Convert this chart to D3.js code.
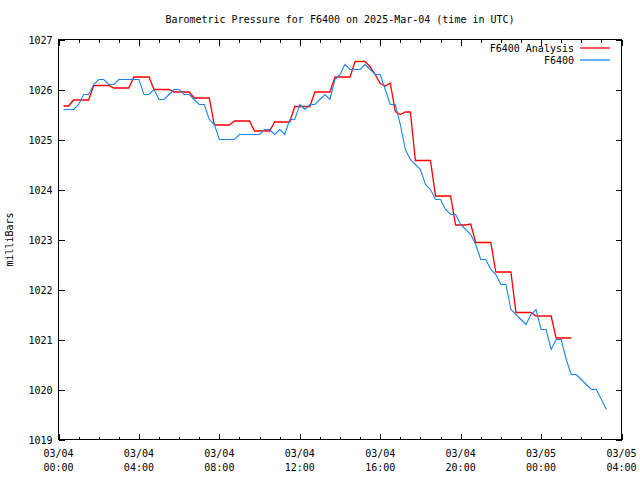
<!DOCTYPE html>
<html><head><meta charset="utf-8">
<script src="https://cdn.jsdelivr.net/npm/d3@7"></script>
<style>
body{margin:0;background:#fff}
svg{display:block}
text{font-family:"DejaVu Sans Mono","Liberation Mono",monospace;font-size:10px;fill:#000}
</style>
</head><body>
<svg id="chart" width="640" height="480"></svg>
<script>
// ---------- data ----------
const titleText = "Barometric Pressure for F6400 on 2025-Mar-04 (time in UTC)";
const yAxisLabel = "milliBars";
const seriesNames = ["F6400 Analysis", "F6400"];
const yTickValues = [1019, 1020, 1021, 1022, 1023, 1024, 1025, 1026, 1027];
const xTickHours = [0, 4, 8, 12, 16, 20, 24, 28];
const xTickDates = ["03/04", "03/04", "03/04", "03/04", "03/04", "03/04", "03/05", "03/05"];
const xTickTimes = ["00:00", "04:00", "08:00", "12:00", "16:00", "20:00", "00:00", "04:00"];

// hours after 2025-03-04 00:00 UTC
const analysisHours = [0.25, 0.5, 0.75, 1.5, 1.75, 2.5, 2.75, 3.5, 3.75, 4.5, 4.75, 5.5,
  5.75, 6.5, 6.75, 7.5, 7.75, 8.5, 8.75, 9.5, 9.75, 10.5, 10.75, 11.5, 11.75, 12.5,
  12.75, 13.5, 13.75, 14.5, 14.75, 15.25, 15.5, 15.75, 16.0, 16.25, 16.5, 16.75, 17.0,
  17.25, 17.5, 17.75, 18.5, 18.75, 19.5, 19.75, 20.25, 20.5, 20.75, 21.5, 21.75, 22.5,
  22.75, 23.5, 23.75, 24.5, 24.75, 25.5];
const analysisValues = [1025.67, 1025.67, 1025.79, 1025.79, 1026.08, 1026.08, 1026.03, 1026.03,
  1026.25, 1026.25, 1026.00, 1026.00, 1025.95, 1025.95, 1025.83, 1025.83, 1025.29, 1025.29,
  1025.37, 1025.37, 1025.17, 1025.17, 1025.35, 1025.35, 1025.66, 1025.66, 1025.95, 1025.95,
  1026.25, 1026.25, 1026.56, 1026.56, 1026.45, 1026.30, 1026.12, 1026.07, 1026.13, 1025.56,
  1025.50, 1025.55, 1025.55, 1024.58, 1024.58, 1023.87, 1023.87, 1023.29, 1023.29, 1023.31,
  1022.94, 1022.94, 1022.35, 1022.35, 1021.54, 1021.54, 1021.47, 1021.47, 1021.03, 1021.03];

const stationHours = [0.25, 0.5, 0.75, 1.0, 1.25, 1.5, 1.75, 2.0, 2.25, 2.5, 2.75, 3.0,
  3.25, 3.5, 3.75, 4.0, 4.25, 4.5, 4.75, 5.0, 5.25, 5.5, 5.75, 6.0, 6.25, 6.5, 6.75, 7.0,
  7.25, 7.5, 7.75, 8.0, 8.25, 8.5, 8.75, 9.0, 9.25, 9.5, 9.75, 10.0, 10.25, 10.5, 10.75, 11.0,
  11.25, 11.5, 11.75, 12.0, 12.25, 12.5, 12.75, 13.0, 13.25, 13.5, 13.75, 14.0, 14.25, 14.5,
  14.75, 15.0, 15.25, 15.5, 15.75, 16.0, 16.25, 16.5, 16.75, 17.0, 17.25, 17.5, 17.75, 18.0,
  18.25, 18.5, 18.75, 19.0, 19.25, 19.5, 19.75, 20.0, 20.25, 20.5, 20.75, 21.0, 21.25, 21.5,
  21.75, 22.0, 22.25, 22.5, 22.75, 23.0, 23.25, 23.5, 23.75, 24.0, 24.25, 24.5, 24.75, 25.0,
  25.25, 25.5, 25.75, 26.0, 26.25, 26.5, 26.75, 27.0, 27.25];
const stationValues = [1025.6, 1025.6, 1025.6, 1025.7, 1025.9, 1025.9, 1026.1, 1026.2, 1026.2,
  1026.1, 1026.1, 1026.2, 1026.2, 1026.2, 1026.2, 1026.2, 1025.9, 1025.9, 1026.0, 1025.8,
  1025.8, 1025.9, 1026.0, 1026.0, 1025.9, 1025.9, 1025.8, 1025.7, 1025.7, 1025.4, 1025.3,
  1025.0, 1025.0, 1025.0, 1025.0, 1025.1, 1025.1, 1025.1, 1025.1, 1025.1, 1025.2, 1025.2,
  1025.1, 1025.2, 1025.1, 1025.4, 1025.4, 1025.7, 1025.6, 1025.7, 1025.7, 1025.8, 1025.9,
  1025.8, 1026.2, 1026.3, 1026.5, 1026.4, 1026.4, 1026.4, 1026.5, 1026.4, 1026.3, 1026.3,
  1026.0, 1025.7, 1025.7, 1025.3, 1024.8, 1024.6, 1024.5, 1024.4, 1024.1, 1024.0, 1023.8,
  1023.8, 1023.6, 1023.5, 1023.5, 1023.3, 1023.2, 1023.1, 1022.9, 1022.6, 1022.6, 1022.4,
  1022.3, 1022.1, 1022.1, 1021.6, 1021.5, 1021.4, 1021.3, 1021.5, 1021.6, 1021.2, 1021.2,
  1020.8, 1021.0, 1021.0, 1020.6, 1020.3, 1020.3, 1020.2, 1020.1, 1020.0, 1020.0, 1019.8,
  1019.6];

// ---------- layout ----------
const colors = ["#ff0000", "#1a87f0"];
const startUTC = Date.UTC(2025, 2, 4, 0, 0);
const HOUR = 3600 * 1000;
const toDate = h => new Date(startUTC + h * HOUR);
const L = 58.5, R = 621.5, T = 39.5, B = 439.5;

const svg = d3.select("#chart");
const x = d3.scaleUtc().domain([toDate(0), toDate(28)]).range([L, R]);
const y = d3.scaleLinear().domain([1019, 1027]).range([B, T]);

// title
svg.append("text").attr("x", (L + R) / 2).attr("y", 23)
  .attr("text-anchor", "middle").text(titleText);

// y label
svg.append("text").attr("transform", `translate(13,${(T + B) / 2}) rotate(-90)`)
  .attr("text-anchor", "middle").text(yAxisLabel);

const ticks = svg.append("g").attr("stroke", "#000").attr("stroke-width", 1)
  .attr("shape-rendering", "crispEdges");

// x ticks (hourly minor, 4-hourly major), bottom and top
d3.utcHour.range(toDate(0), toDate(28.01), 1).forEach(d => {
  const xx = Math.round(x(d)) + 0.5;
  const major = d.getUTCHours() % 4 === 0;
  const len = major ? 6 : 3;
  ticks.append("line").attr("x1", xx).attr("x2", xx).attr("y1", B).attr("y2", B - len);
  ticks.append("line").attr("x1", xx).attr("x2", xx).attr("y1", T).attr("y2", T + len);
});

// y ticks
yTickValues.forEach(v => {
  const yy = Math.round(y(v)) + 0.5;
  ticks.append("line").attr("x1", L).attr("x2", L + 6).attr("y1", yy).attr("y2", yy);
  ticks.append("line").attr("x1", R).attr("x2", R - 6).attr("y1", yy).attr("y2", yy);
  svg.append("text").attr("x", L - 6).attr("y", yy + 3.5)
    .attr("text-anchor", "end").text(v);
});

// x tick labels
xTickHours.forEach((h, i) => {
  const xx = x(toDate(h));
  svg.append("text").attr("x", xx).attr("y", 457).attr("text-anchor", "middle").text(xTickDates[i]);
  svg.append("text").attr("x", xx).attr("y", 471).attr("text-anchor", "middle").text(xTickTimes[i]);
});

// series
const line = d3.line().x(d => x(toDate(d[0]))).y(d => y(d[1]));
const analysis = analysisHours.map((h, i) => [h, analysisValues[i]]);
const station = stationHours.map((h, i) => [h, stationValues[i]]);

svg.append("path").datum(analysis).attr("d", line)
  .attr("fill", "none").attr("stroke", colors[0]).attr("stroke-width", 1.3);
svg.append("path").datum(station).attr("d", line)
  .attr("fill", "none").attr("stroke", colors[1]).attr("stroke-width", 1.1);

// frame
svg.append("rect").attr("x", L).attr("y", T).attr("width", R - L).attr("height", B - T)
  .attr("fill", "none").attr("stroke", "#000").attr("stroke-width", 1)
  .attr("shape-rendering", "crispEdges");

// legend
const legendY = [48, 60];
seriesNames.forEach((name, i) => {
  svg.append("text").attr("x", 574).attr("y", legendY[i] + 4)
    .attr("text-anchor", "end").text(name);
  svg.append("line").attr("x1", 580).attr("x2", 610)
    .attr("y1", legendY[i]).attr("y2", legendY[i])
    .attr("stroke", colors[i]).attr("stroke-width", 1.3);
});
</script>
</body></html>
